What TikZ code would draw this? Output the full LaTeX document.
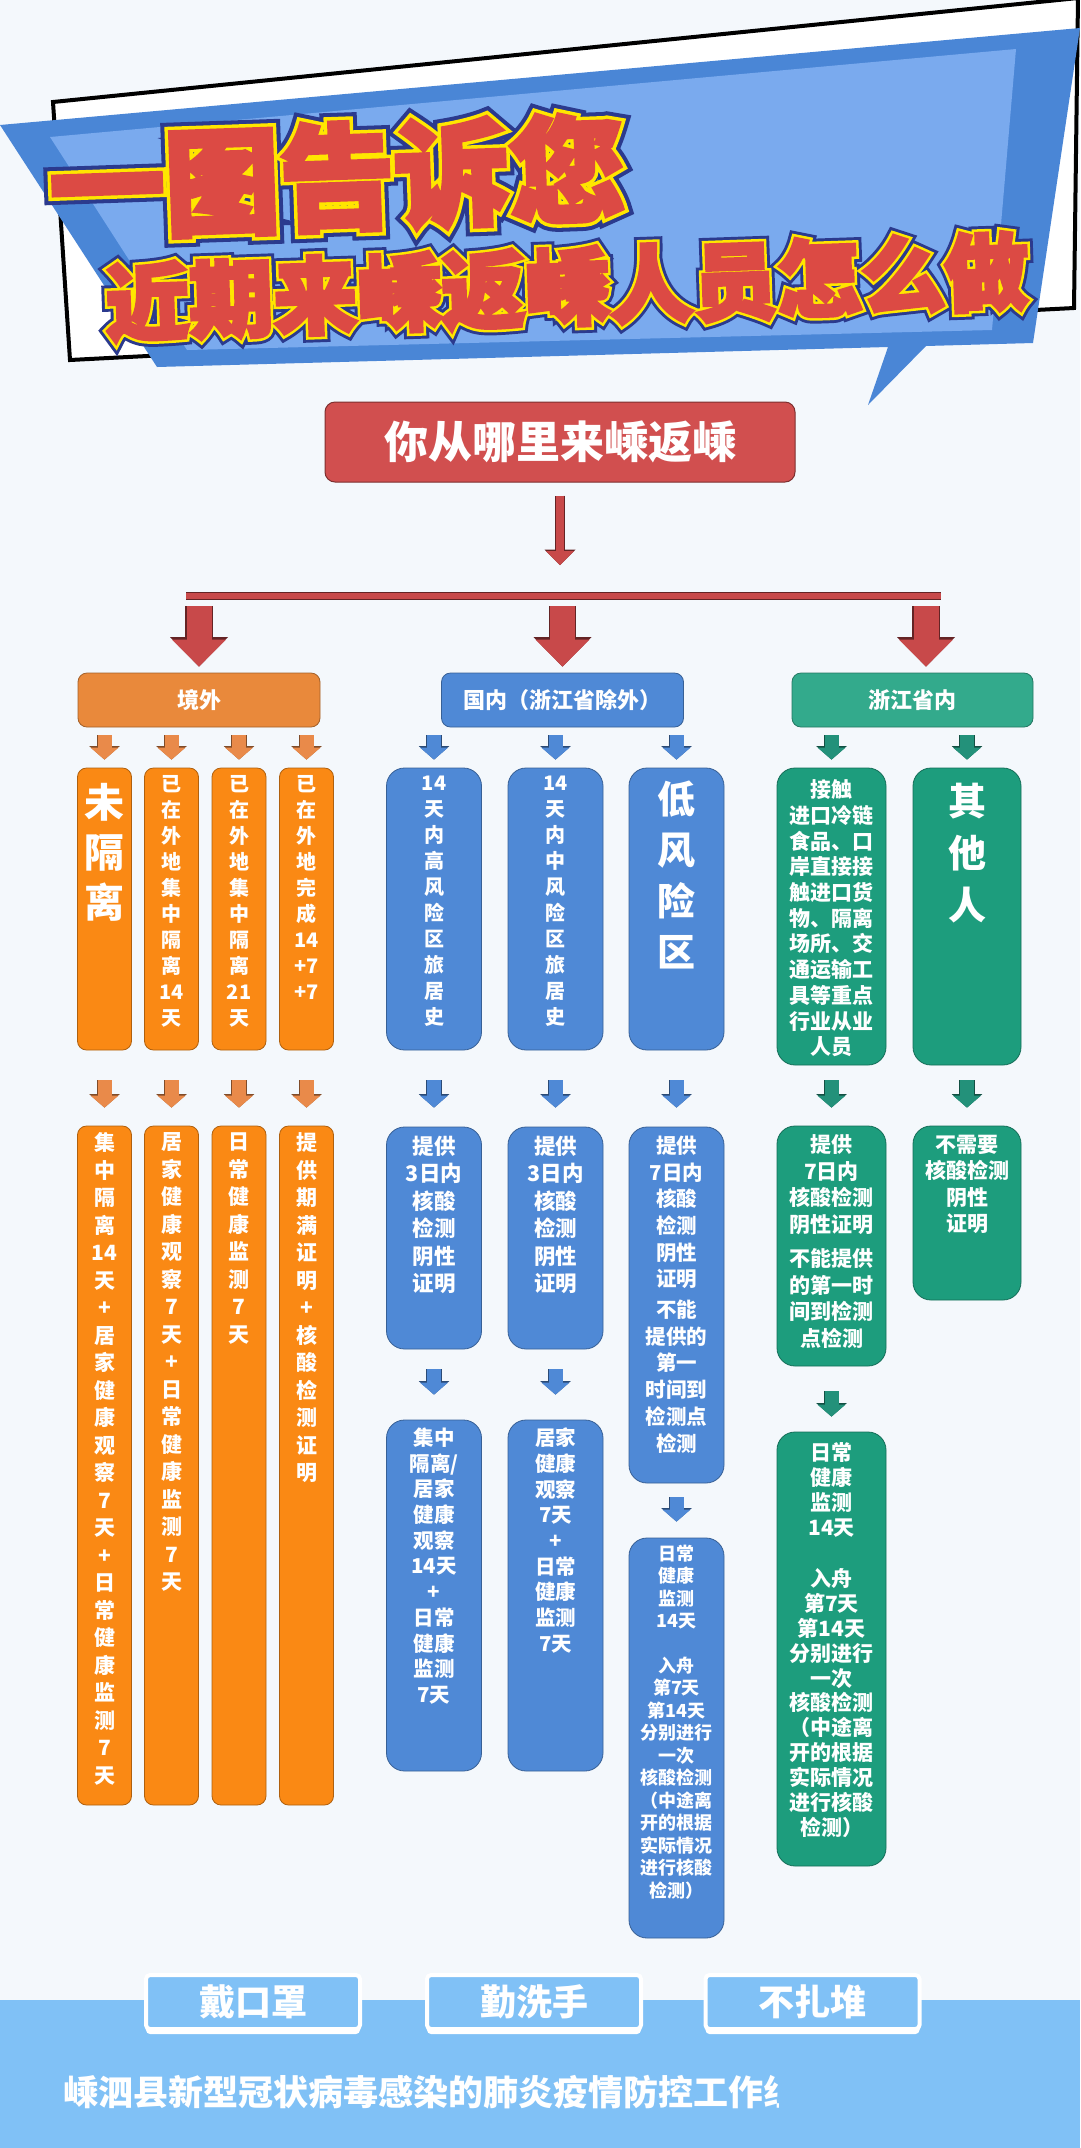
\documentclass[tikz,border=0pt]{standalone}
\usepackage{fontspec}
\usepackage{xcolor}
\usepackage{tikz}
\usetikzlibrary{arrows.meta}
\usetikzlibrary{positioning}
\usetikzlibrary{shadows}

\newfontfamily\cjk{Noto Sans CJK SC}
\newfontfamily\cjknavy{Noto Sans CJK SC}[FakeBold=17]
\newfontfamily\cjkyellow{Noto Sans CJK SC}[FakeBold=10]
\newfontfamily\cjkred{Noto Sans CJK SC}[FakeBold=4]

\definecolor{bgpale}{HTML}{F4F8FC}
\definecolor{bandblue}{HTML}{80C1F6}
\definecolor{banblue}{HTML}{4A86D6}
\definecolor{banlight}{HTML}{7AAAEE}
\definecolor{titlered}{HTML}{DC4A44}
\definecolor{titleyellow}{HTML}{FFE600}
\definecolor{titlenavy}{HTML}{2B3A8E}
\definecolor{kred}{HTML}{D14F4F}
\definecolor{kredarrow}{HTML}{C8494A}
\definecolor{horange}{HTML}{E9893B}
\definecolor{korange}{HTML}{FA8914}
\definecolor{aorange}{HTML}{E98A4A}
\definecolor{kblue}{HTML}{4F89D6}
\definecolor{kgreen}{HTML}{1D9D7D}
\definecolor{hgreen}{HTML}{33AA8C}
\definecolor{agreen}{HTML}{23917A}

\tikzset{
	ttl/.style={text=#1, rotate=2, inner sep=0pt},
	topbox/.style={draw=kred!60!black, fill=kred, rounded corners=10pt, line width=1pt, minimum width=470pt, minimum height=80pt, text=white, font=\cjk\bfseries\fontsize{44}{48}\selectfont},
	hdbox/.style={draw=#1!70!black, fill=#1, rounded corners=9pt, line width=0.8pt, minimum width=242pt, minimum height=54pt, text=white, font=\cjk\bfseries\fontsize{22}{26}\selectfont},
	colbox/.style={draw=#1!70!black, fill=#1, line width=0.8pt, inner sep=0pt},
	orangebox/.style={colbox=korange, rounded corners=9pt, minimum width=54pt},
	bluebox/.style={colbox=kblue, rounded corners=18pt, minimum width=95pt},
	greenbox/.style={colbox=kgreen, rounded corners=18pt, minimum width=109pt},
	txt/.style 2 args={text=white, align=center, inner sep=0pt, font=\cjk\bfseries\fontsize{#1}{#2}\selectfont},
	bar/.style={draw=kredarrow, line width=6pt, preaction={draw=kredarrow!50!black, line width=8pt}},
	thinarrow/.style={draw=kredarrow, line width=8pt, preaction={draw=kredarrow!50!black, line width=10pt, -{Triangle[width=31pt,length=15.5pt,line width=0pt]}}, -{Triangle[width=28pt,length=14pt,line width=0pt]}},
	bigarrow/.style={draw=kredarrow, line width=25pt, preaction={draw=kredarrow!50!black, line width=27.5pt, -{Triangle[width=58pt,length=29.5pt,line width=0pt]}}, -{Triangle[width=54pt,length=27pt,line width=0pt]}},
	flow/.style={draw=#1, line width=14pt, preaction={draw=#1!55!black, line width=15.6pt, -{Triangle[width=30.5pt,length=13.5pt,line width=0pt]}}, -{Triangle[width=28pt,length=12pt,line width=0pt]}},
	tagbox/.style={fill=bandblue, draw=white, line width=4pt, rounded corners=4pt, minimum width=214pt, minimum height=54pt, text=white, font=\cjk\bfseries\fontsize{36}{40}\selectfont, drop shadow={fill=white, opacity=1, shadow xshift=0pt, shadow yshift=-5pt}}
}

\begin{document}
\begin{tikzpicture}[x=1pt, y=-1pt]
	\useasboundingbox (0,0) rectangle (1080,2148);
	\clip (0,0) rectangle (1080,2148);
	% background and banner
	\fill[bgpale] (0,0) rectangle (1080,2000);
	\fill[bandblue] (0,2000) rectangle (1080,2148);
	\draw[line width=4pt, fill=white] (53,102) -- (1078,-2) -- (1074,308) -- (70,360) -- cycle;
	\fill[banblue] (0,125) -- (1080,28) -- (1033,343) -- (926,346) -- (868,405) -- (888,347) -- (157,367) -- cycle;
	\fill[banlight] (50,137) -- (1016,49) -- (992,330) -- (187,350) -- cycle;
	\node[ttl=titlenavy, font=\cjknavy\bfseries\fontsize{115}{115}\selectfont] (ttlAn) at (337,177) {一图告诉您};
	\node[ttl=titleyellow, font=\cjkyellow\bfseries\fontsize{115}{115}\selectfont] (ttlAy) at (337,177) {一图告诉您};
	\node[ttl=titlered, font=\cjkred\bfseries\fontsize{115}{115}\selectfont] (ttlAr) at (337,177) {一图告诉您};
	\node[ttl=titlenavy, font=\cjknavy\bfseries\fontsize{84}{84}\selectfont] (ttlBn) at (567,287) {近期来嵊返嵊人员怎么做};
	\node[ttl=titleyellow, font=\cjkyellow\bfseries\fontsize{84}{84}\selectfont] (ttlBy) at (567,287) {近期来嵊返嵊人员怎么做};
	\node[ttl=titlered, font=\cjkred\bfseries\fontsize{84}{84}\selectfont] (ttlBr) at (567,287) {近期来嵊返嵊人员怎么做};
	% top question and split bar
	\node[topbox] (from) at (560,442) {你从哪里来嵊返嵊};
	\coordinate (barW) at (186,596);
	\coordinate (barE) at (941,596);
	\coordinate (barZ) at (926,596);
	\draw[bar] (barW) -- (barE);
	\draw[thinarrow, shorten <=13pt, shorten >=31pt] (from.south) -- (from.south |- barW);
	% three groups
	\node[hdbox=horange] (abroad) at (199,700) {境外};
	\node[hdbox=kblue] (domestic) at (562.5,700) {国内（浙江省除外）};
	\node[hdbox=hgreen, minimum width=241pt] (zj) at (912.5,700) {浙江省内};
	\draw[bigarrow, shorten <=10pt, shorten >=6pt] (abroad.north |- barW) -- (abroad.north);
	\draw[bigarrow, shorten <=10pt, shorten >=6pt] (domestic.north |- barW) -- (domestic.north);
	\draw[bigarrow, shorten <=10pt, shorten >=6pt] (barZ) -- (barZ |- zj.north);
	% second row
	\node[orangebox, minimum height=282pt] (o1) at (104.5,909) {};
	\node[orangebox, minimum height=282pt] (o2) at (171.5,909) {};
	\node[orangebox, minimum height=282pt] (o3) at (239,909) {};
	\node[orangebox, minimum height=282pt] (o4) at (306.5,909) {};
	\node[bluebox, minimum height=282pt] (b1) at (434,909) {};
	\node[bluebox, minimum height=282pt] (b2) at (555.5,909) {};
	\node[bluebox, minimum height=282pt] (b3) at (676.5,909) {};
	\node[greenbox, minimum height=297pt] (g1) at (831.5,916.5) {};
	\node[greenbox, minimum height=297pt, minimum width=108pt] (g2) at (967,916.5) {};
	\node[txt={40}{50}, below=15pt of o1.north] (o1t) {未\\隔\\离};
	\node[txt={20}{26}, below=8pt of o2.north] (o2t) {已\\在\\外\\地\\集\\中\\隔\\离\\14\\天};
	\node[txt={20}{26}, below=8pt of o3.north] (o3t) {已\\在\\外\\地\\集\\中\\隔\\离\\21\\天};
	\node[txt={20}{26}, below=8pt of o4.north] (o4t) {已\\在\\外\\地\\完\\成\\14\\+7\\+7};
	\node[txt={20}{26}, below=8pt of b1.north] (b1t) {14\\天\\内\\高\\风\\险\\区\\旅\\居\\史};
	\node[txt={20}{26}, below=8pt of b2.north] (b2t) {14\\天\\内\\中\\风\\险\\区\\旅\\居\\史};
	\node[txt={38}{51}, below=13pt of b3.north] (b3t) {低\\风\\险\\区};
	\node[txt={21}{25.7}, below=12pt of g1.north] (g1t) {接触\\进口冷链\\食品、口\\岸直接接\\触进口货\\物、隔离\\场所、交\\通运输工\\具等重点\\行业从业\\人员};
	\node[txt={38}{52}, below=15pt of g2.north] (g2t) {其\\他\\人};
	\draw[flow=aorange, shorten <=8pt, shorten >=8pt] (o1.north |- abroad.south) -- (o1.north);
	\draw[flow=aorange, shorten <=8pt, shorten >=8pt] (o2.north |- abroad.south) -- (o2.north);
	\draw[flow=aorange, shorten <=8pt, shorten >=8pt] (o3.north |- abroad.south) -- (o3.north);
	\draw[flow=aorange, shorten <=8pt, shorten >=8pt] (o4.north |- abroad.south) -- (o4.north);
	\draw[flow=kblue, shorten <=8pt, shorten >=8pt] (b1.north |- domestic.south) -- (b1.north);
	\draw[flow=kblue, shorten <=8pt, shorten >=8pt] (b2.north |- domestic.south) -- (b2.north);
	\draw[flow=kblue, shorten <=8pt, shorten >=8pt] (b3.north |- domestic.south) -- (b3.north);
	\draw[flow=agreen, shorten <=8pt, shorten >=8pt] (g1.north |- zj.south) -- (g1.north);
	\draw[flow=agreen, shorten <=8pt, shorten >=8pt] (g2.north |- zj.south) -- (g2.north);
	% third row
	\node[orangebox, minimum height=679pt] (o1b) at (104.5,1465.5) {};
	\node[orangebox, minimum height=679pt] (o2b) at (171.5,1465.5) {};
	\node[orangebox, minimum height=679pt] (o3b) at (239,1465.5) {};
	\node[orangebox, minimum height=679pt] (o4b) at (306.5,1465.5) {};
	\node[bluebox, minimum height=222pt] (b1b) at (434,1238) {};
	\node[bluebox, minimum height=222pt] (b2b) at (555.5,1238) {};
	\node[bluebox, minimum height=356pt] (b3b) at (676.5,1305) {};
	\node[greenbox, minimum height=240pt] (g1b) at (831.5,1246) {};
	\node[greenbox, minimum height=174pt, minimum width=108pt] (g2b) at (967,1213) {};
	\node[txt={21}{27.5}, below=7pt of o1b.north] (o1bt) {集\\中\\隔\\离\\14\\天\\+\\居\\家\\健\\康\\观\\察\\7\\天\\+\\日\\常\\健\\康\\监\\测\\7\\天};
	\node[txt={21}{27.5}, below=7pt of o2b.north] (o2bt) {居\\家\\健\\康\\观\\察\\7\\天\\+\\日\\常\\健\\康\\监\\测\\7\\天};
	\node[txt={21}{27.5}, below=7pt of o3b.north] (o3bt) {日\\常\\健\\康\\监\\测\\7\\天};
	\node[txt={21}{27.5}, below=7pt of o4b.north] (o4bt) {提\\供\\期\\满\\证\\明\\+\\核\\酸\\检\\测\\证\\明};
	\node[txt={21.5}{27.5}, below=9pt of b1b.north] (b1bt) {提供\\3日内\\核酸\\检测\\阴性\\证明};
	\node[txt={21.5}{27.5}, below=9pt of b2b.north] (b2bt) {提供\\3日内\\核酸\\检测\\阴性\\证明};
	\node[txt={20.5}{26.7}, below=9pt of b3b.north] (b3bt) {提供\\7日内\\核酸\\检测\\阴性\\证明\\[4pt]不能\\提供的\\第一\\时间到\\检测点\\检测};
	\node[txt={21}{26.5}, below=9pt of g1b.north] (g1bt) {提供\\7日内\\核酸检测\\阴性证明\\[8pt]不能提供\\的第一时\\间到检测\\点检测};
	\node[txt={21}{26.5}, below=9pt of g2b.north] (g2bt) {不需要\\核酸检测\\阴性\\证明};
	\draw[flow=aorange, shorten <=30pt, shorten >=18pt] (o1.south) -- (o1b.north);
	\draw[flow=aorange, shorten <=30pt, shorten >=18pt] (o2.south) -- (o2b.north);
	\draw[flow=aorange, shorten <=30pt, shorten >=18pt] (o3.south) -- (o3b.north);
	\draw[flow=aorange, shorten <=30pt, shorten >=18pt] (o4.south) -- (o4b.north);
	\draw[flow=kblue, shorten <=30pt, shorten >=19pt] (b1.south) -- (b1b.north);
	\draw[flow=kblue, shorten <=30pt, shorten >=19pt] (b2.south) -- (b2b.north);
	\draw[flow=kblue, shorten <=30pt, shorten >=19pt] (b3.south) -- (b3b.north);
	\draw[flow=agreen, shorten <=15pt, shorten >=18pt] (g1.south) -- (g1b.north);
	\draw[flow=agreen, shorten <=15pt, shorten >=18pt] (g2.south) -- (g2b.north);
	% fourth row
	\node[bluebox, minimum height=351pt] (b1c) at (434,1595.5) {};
	\node[bluebox, minimum height=351pt] (b2c) at (555.5,1595.5) {};
	\node[bluebox, minimum height=400pt] (b3c) at (676.5,1738) {};
	\node[greenbox, minimum height=434pt] (g1c) at (831.5,1649) {};
	\node[txt={20.5}{25.7}, below=8pt of b1c.north] (b1ct) {集中\\隔离/\\居家\\健康\\观察\\14天\\+\\日常\\健康\\监测\\7天};
	\node[txt={20.5}{25.7}, below=8pt of b2c.north] (b2ct) {居家\\健康\\观察\\7天\\+\\日常\\健康\\监测\\7天};
	\node[txt={18}{22.5}, below=7pt of b3c.north] (b3ct) {日常\\健康\\监测\\14天\\[22pt]入舟\\第7天\\第14天\\分别进行\\一次\\核酸检测\\（中途离\\开的根据\\实际情况\\进行核酸\\检测）};
	\node[txt={21}{24.9}, below=11pt of g1c.north] (g1ct) {日常\\健康\\监测\\14天\\[26pt]入舟\\第7天\\第14天\\分别进行\\一次\\核酸检测\\（中途离\\开的根据\\实际情况\\进行核酸\\检测）};
	\draw[flow=kblue, shorten <=20pt, shorten >=25pt] (b1b.south) -- (b1c.north);
	\draw[flow=kblue, shorten <=20pt, shorten >=25pt] (b2b.south) -- (b2c.north);
	\draw[flow=kblue, shorten <=14pt, shorten >=16pt] (b3b.south) -- (b3c.north);
	\draw[flow=agreen, shorten <=25pt, shorten >=15pt] (g1b.south) -- (g1c.north);
	% slogans and footer
	\node[tagbox] (mask) at (253,2002) {戴口罩};
	\node[tagbox] (wash) at (534,2002) {勤洗手};
	\node[tagbox] (crowd) at (812.5,2002) {不扎堆};
	\begin{scope}
		\clip (0,2040) rectangle (778,2148);
		\node[anchor=west, text=white, inner sep=0pt, font=\cjk\bfseries\fontsize{35}{35}\selectfont] (footer) at (63,2092) {嵊泗县新型冠状病毒感染的肺炎疫情防控工作组};
	\end{scope}
\end{tikzpicture}
\end{document}
